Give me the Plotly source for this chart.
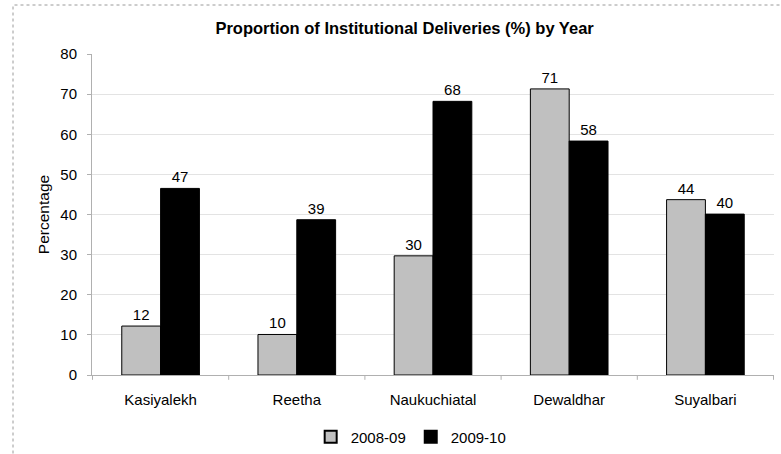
import plotly.graph_objects as go

# Institutional deliveries by block, two survey years
blocks = ["Kasiyalekh", "Reetha", "Naukuchiatal", "Dewaldhar", "Suyalbari"]
year_2008_09 = [12.2, 10.1, 29.7, 71.3, 43.7]
year_2009_10 = [46.5, 38.7, 68.2, 58.3, 40.1]
y_ticks = [0, 10, 20, 30, 40, 50, 60, 70, 80]

FONT = "Liberation Sans, Arial, sans-serif"

fig = go.Figure()
fig.add_trace(go.Bar(
    name="2008-09", x=blocks, y=year_2008_09,
    marker=dict(color="#c0c0c0", line=dict(color="#000000", width=1)),
    texttemplate="%{y:.0f}", textposition="outside",
    textfont=dict(size=15, color="#000000", family=FONT), cliponaxis=False,
))
fig.add_trace(go.Bar(
    name="2009-10", x=blocks, y=year_2009_10,
    marker=dict(color="#000000", line=dict(color="#000000", width=1)),
    texttemplate="%{y:.0f}", textposition="outside",
    textfont=dict(size=15, color="#000000", family=FONT), cliponaxis=False,
))

fig.update_layout(
    width=781, height=454,
    margin=dict(l=92, r=7, t=54, b=79),
    paper_bgcolor="white", plot_bgcolor="white",
    font=dict(family=FONT, size=15, color="#000000"),
    barmode="group", bargap=0.43, bargroupgap=0,
    title=dict(
        text="<b>Proportion of Institutional Deliveries (%) by Year</b>",
        x=0.518, xanchor="center", y=1 - 28 / 454, yanchor="middle",
        font=dict(size=16.5, family=FONT, color="#000000"),
    ),
    showlegend=True,
    legend=dict(
        orientation="h", x=0.468, xanchor="center",
        yref="container", y=(454 - 437) / 454, yanchor="middle",
        font=dict(size=15, family=FONT), itemwidth=30, traceorder="normal",
        tracegroupgap=0, itemsizing="constant",
    ),
    xaxis=dict(
        showline=True, linecolor="#b0b0b0", linewidth=1,
        ticks="", tickfont=dict(size=15, family=FONT),
        ticklabelstandoff=11,
        showgrid=False,
    ),
    yaxis=dict(
        range=[0, 80], tickvals=y_ticks,
        showline=True, linecolor="#b0b0b0", linewidth=1,
        ticks="outside", ticklen=4, tickcolor="#b0b0b0",
        ticklabelstandoff=7,
        showgrid=True, gridcolor="#e3e3e3", gridwidth=1,
        zeroline=False,
        tickfont=dict(size=15, family=FONT),
        title=dict(text="Percentage", font=dict(size=15.5, family=FONT), standoff=6),
    ),
)

# Category boundary ticks along the x-axis
for i in range(len(blocks) + 1):
    fig.add_shape(
        type="line", xref="x", yref="paper",
        x0=i - 0.5, x1=i - 0.5, y0=0, y1=-0.015,
        line=dict(color="#b0b0b0", width=1),
    )

# Dotted frame around the chart
fig.add_shape(
    type="rect", xref="paper", yref="paper",
    x0=(13 - 92) / 682, x1=1.05, y0=-0.3, y1=(375 - 5) / 321,
    line=dict(color="#9a9a9a", width=1, dash="dot"),
    fillcolor="rgba(0,0,0,0)", layer="below",
)

fig.write_html("out.html")
